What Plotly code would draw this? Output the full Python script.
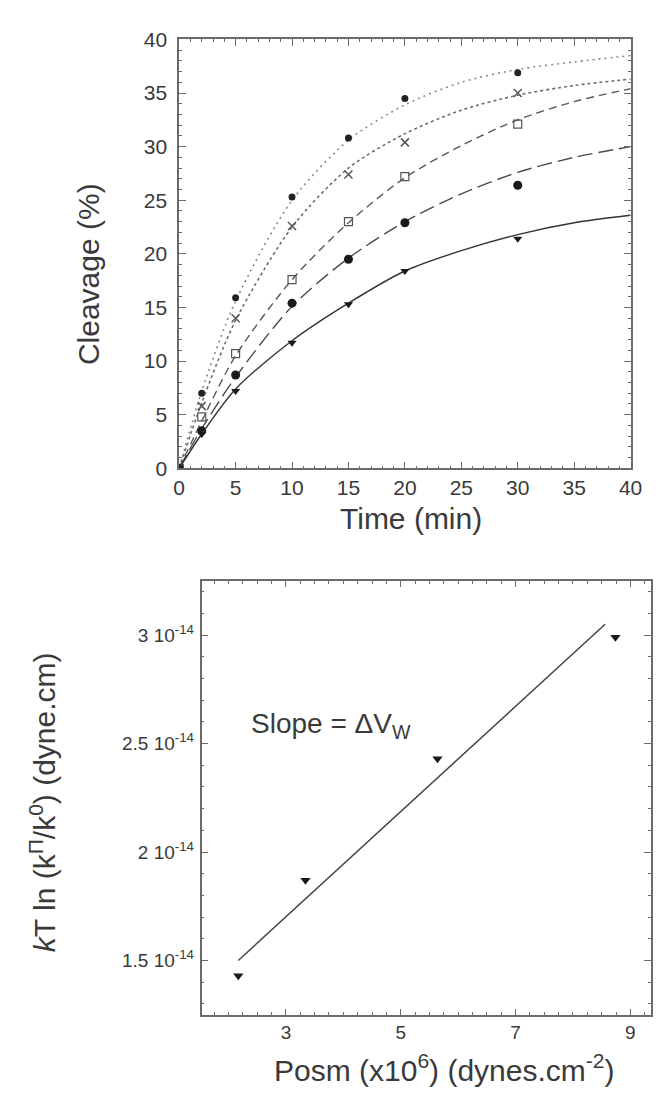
import plotly.graph_objects as go

# ---------------- Top panel data: cleavage kinetics ----------------
time_pts = [0, 2, 5, 10, 15, 20, 30]
cleav_s1 = [0, 7.0, 15.9, 25.3, 30.8, 34.5, 36.9]   # small filled circles
cleav_s2 = [0, 5.8, 14.0, 22.6, 27.4, 30.4, 35.0]   # crosses
cleav_s3 = [0, 4.8, 10.7, 17.6, 23.0, 27.2, 32.1]   # open squares
cleav_s4 = [0, 3.5, 8.7, 15.4, 19.5, 22.9, 26.4]    # large filled circles
cleav_s5 = [0, 3.2, 7.2, 11.7, 15.3, 18.4, 21.4]    # filled down-triangles

time_fit = [0, 2, 5, 10, 15, 20, 25, 30, 35, 40]
fit_s1 = [0, 7.2, 15.6, 25.0, 30.6, 33.9, 36.0, 37.2, 37.9, 38.5]
fit_s2 = [0, 6.1, 13.8, 22.5, 28.0, 31.2, 33.4, 34.8, 35.7, 36.3]
fit_s3 = [0, 4.4, 10.5, 17.6, 22.9, 27.1, 30.1, 32.5, 34.2, 35.4]
fit_s4 = [0, 3.7, 8.5, 15.1, 19.6, 23.0, 25.6, 27.6, 29.0, 30.0]
fit_s5 = [0, 3.2, 7.4, 11.9, 15.4, 18.4, 20.3, 21.8, 22.9, 23.6]

# ---------------- Bottom panel data ----------------
posm = [2.17, 3.34, 5.64, 8.74]
kt_ln = [1.43e-14, 1.87e-14, 2.43e-14, 2.99e-14]
posm_fit = [2.17, 8.56]
kt_ln_fit = [1.50e-14, 3.05e-14]

y2_tickvals = [1.5e-14, 2.0e-14, 2.5e-14, 3.0e-14]
y2_ticktext = ["1.5 10<sup>-14</sup>", "2 10<sup>-14</sup>",
               "2.5 10<sup>-14</sup>", "3 10<sup>-14</sup>"]
x2_tickvals = [3, 5, 7, 9]
x2_ticktext = ["3", "5", "7", "9"]

FONT = "Liberation Sans, Arial, Helvetica, sans-serif"
AX = "#6a6a6a"
TXT = "#3a3a3a"

W, H = 664, 1104

fig = go.Figure()

series = [
    (cleav_s1, fit_s1, dict(symbol="circle", size=7, color="#222"), dict(color="#8a8a8a", width=1.6, dash="2px,4px")),
    (cleav_s2, fit_s2, dict(symbol="x-thin", size=8, color="#555", line=dict(width=1.5, color="#555")), dict(color="#6e6e6e", width=1.6, dash="3px,3px")),
    (cleav_s3, fit_s3, dict(symbol="square-open", size=8, color="#555", line=dict(width=1.2)), dict(color="#5a5a5a", width=1.4, dash="8px,5px")),
    (cleav_s4, fit_s4, dict(symbol="circle", size=9, color="#1a1a1a"), dict(color="#4a4a4a", width=1.4, dash="15px,6px")),
    (cleav_s5, fit_s5, dict(symbol="triangle-down", size=8, color="#1a1a1a"), dict(color="#333", width=1.4)),
]
for pts, fit, mk, ln in series:
    fig.add_trace(go.Scatter(x=time_fit, y=fit, mode="lines", line=dict(shape="spline", smoothing=0.8, **ln),
                             xaxis="x", yaxis="y", showlegend=False, hoverinfo="skip"))
    fig.add_trace(go.Scatter(x=time_pts, y=pts, mode="markers", marker=mk,
                             xaxis="x", yaxis="y", showlegend=False))

fig.add_trace(go.Scatter(x=posm_fit, y=kt_ln_fit, mode="lines", line=dict(color="#444", width=1.5),
                         xaxis="x2", yaxis="y2", showlegend=False))
fig.add_trace(go.Scatter(x=posm, y=kt_ln, mode="markers",
                         marker=dict(symbol="triangle-down", size=9, color="#1a1a1a"),
                         xaxis="x2", yaxis="y2", showlegend=False))

common = dict(showgrid=False, zeroline=False, showline=True, linecolor=AX, linewidth=1.5,
              mirror="allticks", ticks="inside", tickcolor=AX, tickwidth=1.2)
tick_big = dict(family=FONT, size=21, color=TXT)
tick_small = dict(family=FONT, size=19, color=TXT)

fig.update_layout(
    width=W, height=H, margin=dict(l=0, r=0, t=0, b=0),
    paper_bgcolor="white", plot_bgcolor="white",
    xaxis=dict(domain=[178 / W, 642 / W], range=[0, 40], tickmode="linear", tick0=0, dtick=5,
               ticklen=7, minor=dict(dtick=1, ticklen=3, ticks="inside", tickcolor=AX),
               anchor="y", tickfont=tick_big, **common),
    yaxis=dict(domain=[1 - 466 / H, 1 - 28 / H], range=[0, 40], tickmode="linear", tick0=0, dtick=5,
               ticklen=7, minor=dict(dtick=1, ticklen=3, ticks="inside", tickcolor=AX),
               anchor="x", ticklabelstandoff=6, tickfont=tick_big, **common),
    xaxis2=dict(domain=[201 / W, 663 / W], range=[1.53, 9.36], tickmode="array",
                tickvals=x2_tickvals, ticktext=x2_ticktext, ticklen=6,
                minor=dict(tickmode="linear", tick0=0, dtick=0.25, ticklen=3, ticks="inside", tickcolor=AX),
                anchor="y2", tickfont=tick_small, **common),
    yaxis2=dict(domain=[1 - 1024 / H, 1 - 581 / H], range=[1.25e-14, 3.25e-14], tickmode="array",
                tickvals=y2_tickvals, ticktext=y2_ticktext, ticklen=7,
                minor=dict(tickmode="linear", tick0=0, dtick=0.1e-14, ticklen=3, ticks="inside", tickcolor=AX),
                anchor="x2", ticklabelstandoff=2, tickfont=tick_small, **common),
)

title_font = dict(family=FONT, size=30, color=TXT)
annos = [
    dict(text="Cleavage (%)", x=85 / W, y=1 - 268 / H, textangle=-90),
    dict(text="Time (min)", x=416 / W, y=1 - 517 / H),
    dict(text="<i>k</i>T ln (k<sup>Π</sup>/k<sup>0</sup>) (dyne.cm)", x=38 / W, y=1 - 807 / H, textangle=-90),
    dict(text="Posm (x10<sup>6</sup>) (dynes.cm<sup>-2</sup>)", x=450 / W, y=1 - 1078 / H),
]
for a in annos:
    fig.add_annotation(xref="paper", yref="paper", showarrow=False, xanchor="center", yanchor="middle",
                       font=title_font, **a)

fig.add_annotation(xref="x2", yref="y2", x=2.36, y=2.585e-14, xanchor="left", yanchor="middle",
                   text="Slope = ΔV<sub>W</sub>", showarrow=False,
                   font=dict(family=FONT, size=28, color=TXT))

fig.write_html("out.html")
